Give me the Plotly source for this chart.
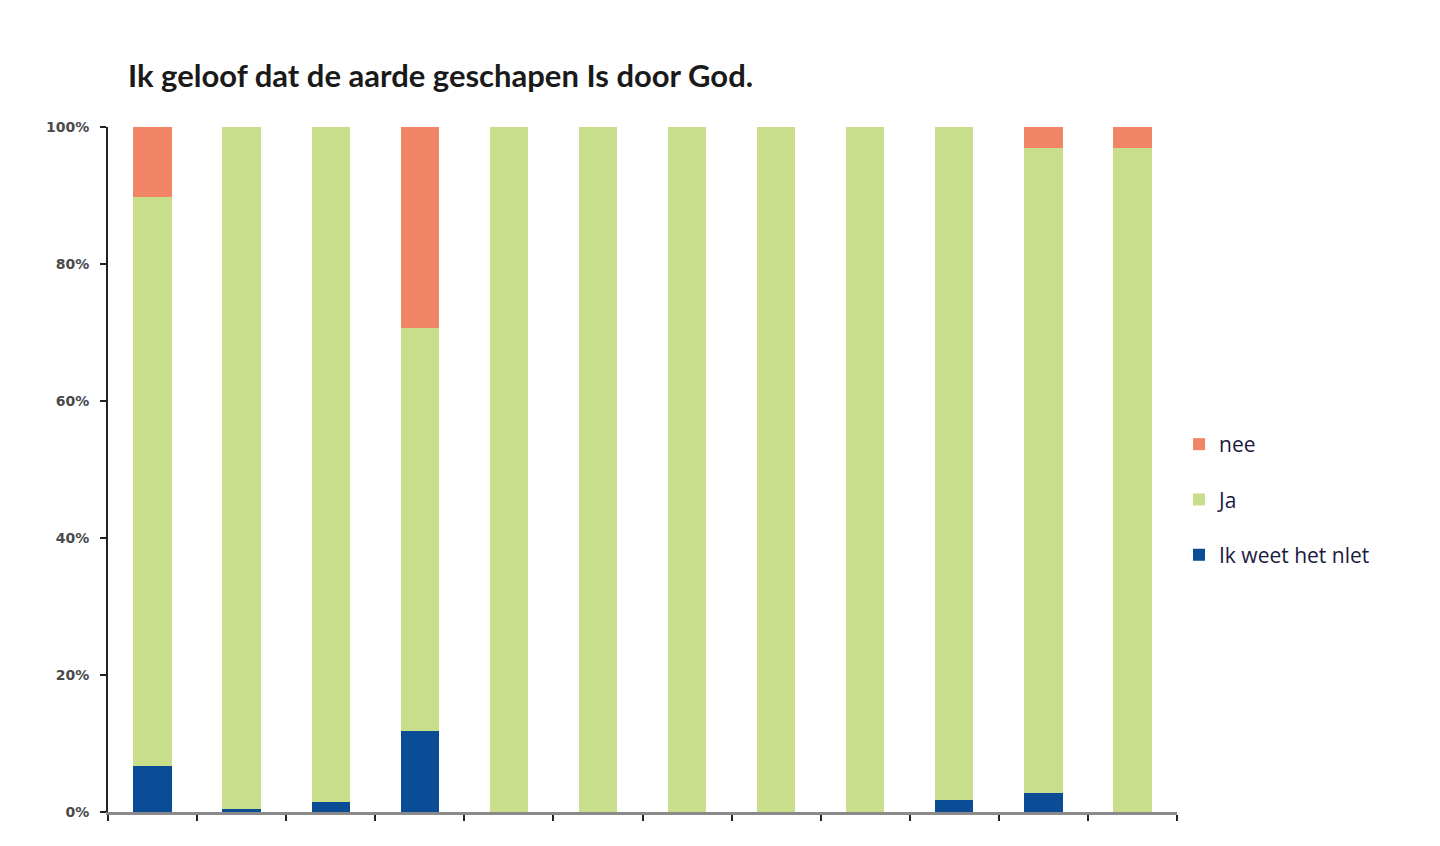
import plotly.graph_objects as go

categories = ["1", "2", "3", "4", "5", "6", "7", "8", "9", "10", "11", "12"]
weet_niet = [6.7, 0.5, 1.5, 11.8, 0, 0, 0, 0, 0, 1.7, 2.8, 0]
ja = [83.1, 99.5, 98.5, 58.9, 100, 100, 100, 100, 100, 98.3, 94.1, 97.0]
nee = [10.2, 0, 0, 29.3, 0, 0, 0, 0, 0, 0, 3.1, 3.0]
y_ticks = [0, 20, 40, 60, 80, 100]
y_tick_labels = ["0%", "20%", "40%", "60%", "80%", "100%"]

OFF = 8  # page body margin
L, R, T, B = 108 - OFF, 1177 - OFF, 127 - OFF, 812 - OFF

fig = go.Figure()
fig.add_trace(go.Bar(x=categories, y=weet_niet, name="Ik weet het nlet",
                     marker=dict(color="#0B4C96", line=dict(width=0)), legendgroup="a",
                     legendrank=3))
fig.add_trace(go.Bar(x=categories, y=ja, name="Ja",
                     marker=dict(color="#C8DE8A", line=dict(width=0)), legendgroup="b",
                     legendrank=2))
fig.add_trace(go.Bar(x=categories, y=nee, name="nee",
                     marker=dict(color="#F28565", line=dict(width=0)), legendgroup="c",
                     legendrank=1))

fig.update_layout(
    barmode="stack",
    bargap=0.57,
    width=1440, height=846,
    margin=dict(l=L, r=1440 - R, t=T, b=846 - B),
    plot_bgcolor="white", paper_bgcolor="white",
    title=dict(text="<b>Ik geloof dat de aarde geschapen Is door God.</b>",
               x=(128 - OFF) / 1440, xanchor="left", y=1 - (76 - OFF) / 846, yanchor="middle",
               font=dict(family="Lato", size=31, color="#1a1a1a")),
    legend=dict(x=(1179 - OFF - L) / (R - L), xanchor="left",
                y=1 - (424 - OFF - T) / (B - T), yanchor="top", yref="paper",
                traceorder="grouped", tracegroupgap=25,
                font=dict(family="Open Sans", size=21, color="#1a1a40"),
                itemwidth=30),
    showlegend=True,
)
fig.update_xaxes(type="category", showticklabels=False, ticks="outside", tickson="boundaries",
                 ticklen=6, tickwidth=2, tickcolor="#222", showline=True, linecolor="#8a8a8a",
                 linewidth=3, showgrid=False, zeroline=False)
fig.update_yaxes(range=[0, 100], tickvals=y_ticks, ticktext=y_tick_labels, ticks="outside",
                 ticklen=6, tickwidth=2, tickcolor="#222", showline=True, linecolor="#222",
                 linewidth=2, showgrid=False, zeroline=False, ticklabelstandoff=8,
                 tickfont=dict(family="DejaVu Sans", size=14, weight="bold", color="#4a4a4a"))

fig.write_html("out.html")
